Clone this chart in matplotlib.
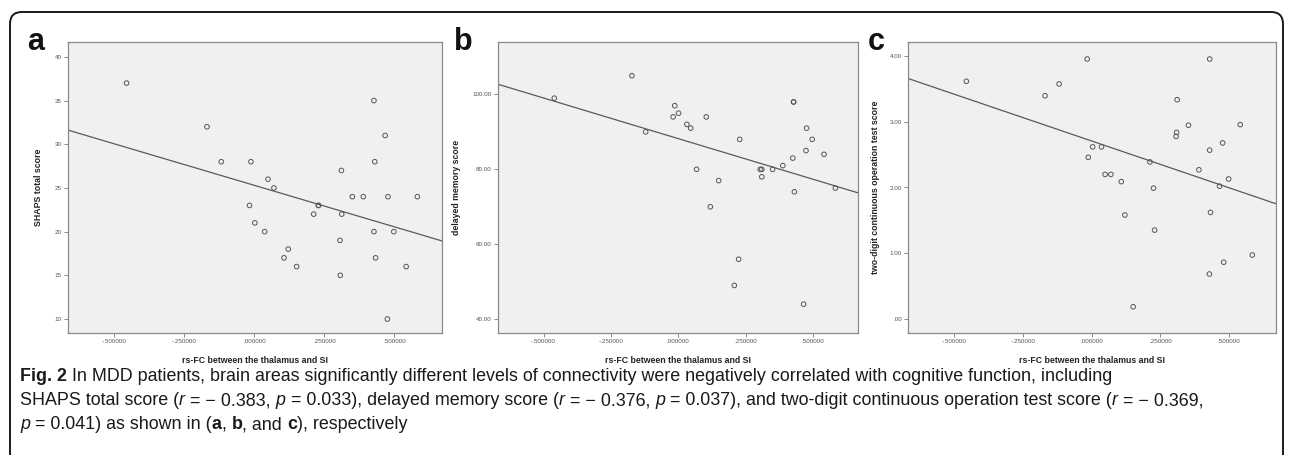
"""
Scatter plots of rs-FC between the thalamus and SI against cognitive scores.
"""

import matplotlib
matplotlib.use("Agg")
import matplotlib.pyplot as plt
import matplotlib.font_manager as fm
from matplotlib.patches import FancyBboxPatch
from matplotlib.transforms import IdentityTransform
import numpy as np

# panel a: SHAPS total score
fc_a = [-0.456, -0.169, -0.118, -0.012, -0.017, 0.049, 0.070, 0.002, 0.037,
        0.121, 0.106, 0.151, 0.229, 0.229, 0.212, 0.311, 0.312, 0.306, 0.307,
        0.350, 0.389, 0.427, 0.467, 0.430, 0.477, 0.427, 0.498, 0.433, 0.542,
        0.582, 0.475]
shaps = [37, 32, 28, 28, 23, 26, 25, 21, 20,
         18, 17, 16, 23, 23, 22, 27, 22, 19, 15,
         24, 24, 35, 31, 28, 24, 20, 20, 17, 16,
         24, 10]

# panel b: delayed memory score
fc_b = [-0.460, -0.172, -0.121, -0.013, -0.019, 0.001, 0.032, 0.046, 0.104,
        0.068, 0.150, 0.119, 0.228, 0.224, 0.208, 0.304, 0.310, 0.310, 0.350,
        0.388, 0.425, 0.428, 0.428, 0.431, 0.476, 0.497, 0.474, 0.541, 0.583,
        0.465]
memory = [99, 105, 90, 97, 94, 95, 92, 91, 94,
          80, 77, 70, 88, 56, 49, 80, 80, 78, 80,
          81, 83, 98, 98, 74, 91, 88, 85, 84, 75,
          44]

# panel c: two-digit continuous operation test score
fc_c = [-0.455, -0.169, -0.118, -0.016, -0.012, 0.004, 0.036, 0.049, 0.070,
        0.108, 0.121, 0.151, 0.212, 0.225, 0.229, 0.311, 0.309, 0.307, 0.352,
        0.390, 0.429, 0.429, 0.476, 0.465, 0.498, 0.432, 0.540, 0.480, 0.428,
        0.584]
operation = [3.62, 3.40, 3.58, 3.96, 2.46, 2.62, 2.62, 2.20, 2.20,
             2.09, 1.58, 0.18, 2.39, 1.99, 1.35, 3.34, 2.84, 2.78, 2.95,
             2.27, 3.96, 2.57, 2.68, 2.02, 2.13, 1.62, 2.96, 0.86, 0.68,
             0.97]

# fit lines: (intercept, slope)
fit_a = (25.3, -9.5)
fit_b = (88.2, -21.7)
fit_c = (2.71, -1.43)

x_ticks = [-0.5, -0.25, 0.0, 0.25, 0.5]
x_tick_labels = ["-.500000", "-.250000", ".000000", ".250000", ".500000"]
y_ticks_a = [10, 15, 20, 25, 30, 35, 40]
y_labels_a = ["10", "15", "20", "25", "30", "35", "40"]
y_ticks_b = [40, 60, 80, 100]
y_labels_b = ["40.00", "60.00", "80.00", "100.00"]
y_ticks_c = [0, 1, 2, 3, 4]
y_labels_c = [".00", "1.00", "2.00", "3.00", "4.00"]

x_label = "rs-FC between the thalamus and SI"


def pick_font(names):
    have = {f.name for f in fm.fontManager.ttflist}
    for name in names:
        if name in have:
            return name
    return "DejaVu Sans"


AX_FONT = pick_font(["Liberation Sans", "Arimo"])
CAP_FONT = pick_font(["Liberation Sans Narrow", "Liberation Sans"])
CAP_SIZE = 15.4 if CAP_FONT == "Liberation Sans Narrow" else 12.9

W, H = 1290, 455
fig = plt.figure(figsize=(W / 100, H / 100), dpi=100)


def px_axes(left, right, top, bottom):
    return fig.add_axes([left / W, 1 - bottom / H, (right - left) / W,
                         (bottom - top) / H])


def panel(ax, x, y, fit, yticks, ylabels, ylim, xlim, ylabel, ylab_x):
    ax.set_facecolor("#f0f0f0")
    ax.scatter(x, y, s=11, facecolors="none", edgecolors="#555555",
               linewidths=0.7, zorder=3)
    xs = np.array(xlim)
    ax.plot(xs, fit[0] + fit[1] * xs, color="#5a5a5a", linewidth=0.9,
            zorder=2)
    ax.set_xlim(xlim)
    ax.set_ylim(ylim)
    ax.set_xticks(x_ticks)
    ax.set_xticklabels(x_tick_labels)
    ax.set_yticks(yticks)
    ax.set_yticklabels(ylabels)
    ax.tick_params(length=3, width=0.6, color="#777777", labelsize=4.5,
                   labelcolor="#555555", pad=1.5)
    for sp in ax.spines.values():
        sp.set_color("#8a8a8a")
        sp.set_linewidth(0.9)
    ax.set_xlabel(x_label, fontsize=6.3, weight="bold", family=AX_FONT,
                  color="#222222")
    ax.xaxis.set_label_coords(0.5, -0.079)
    ax.set_ylabel(ylabel, fontsize=6.3, weight="bold", family=AX_FONT,
                  color="#222222")
    ax.yaxis.set_label_coords(ylab_x, 0.5)
    for lab in ax.get_xticklabels() + ax.get_yticklabels():
        lab.set_family(AX_FONT)


ax_a = px_axes(68, 442, 42, 333)
panel(ax_a, fc_a, shaps, fit_a, y_ticks_a, y_labels_a, (8.4, 41.7),
      (-0.665, 0.670), "SHAPS total score", -0.067)
ax_b = px_axes(498, 858, 42, 333)
panel(ax_b, fc_b, memory, fit_b, y_ticks_b, y_labels_b, (36.3, 114.0),
      (-0.669, 0.667), "delayed memory score", -0.104)
ax_c = px_axes(908, 1276, 42, 333)
panel(ax_c, fc_c, operation, fit_c, y_ticks_c, y_labels_c, (-0.22, 4.22),
      (-0.667, 0.670), "two-digit continuous operation test score", -0.077)

# panel letters
for letter, xpos in [("a", 27), ("b", 454), ("c", 868)]:
    fig.text(xpos, H - 50, letter, transform=IdentityTransform(),
             fontsize=22, weight="bold", family=AX_FONT, color="#111111")

# outer rounded frame, open below the picture
frame = FancyBboxPatch((10, -30), 1273, H - 12 + 30,
                       boxstyle="round,pad=0,rounding_size=12",
                       transform=IdentityTransform(), fill=False,
                       edgecolor="#1a1a1a", linewidth=1.4)
fig.patches.append(frame)

# caption, drawn run by run so bold and italic parts line up
caption = [
    [("Fig. 2", "bold", "normal"),
     (" In MDD patients, brain areas significantly different levels of "
      "connectivity were negatively correlated with cognitive function, "
      "including", "normal", "normal")],
    [("SHAPS total score (", "normal", "normal"), ("r", "normal", "italic"),
     (" = \u2212 0.383, ", "normal", "normal"),
     ("p", "normal", "italic"),
     (" = 0.033), delayed memory score (", "normal", "normal"),
     ("r", "normal", "italic"),
     (" = \u2212 0.376, ", "normal", "normal"),
     ("p", "normal", "italic"),
     (" = 0.037), and two-digit continuous operation test score (",
      "normal", "normal"),
     ("r", "normal", "italic"),
     (" = \u2212 0.369,", "normal", "normal")],
    [("p", "normal", "italic"),
     (" = 0.041) as shown in (", "normal", "normal"),
     ("a", "bold", "normal"), (", ", "normal", "normal"),
     ("b", "bold", "normal"), (", and ", "normal", "normal"),
     ("c", "bold", "normal"), ("), respectively", "normal", "normal")],
]
baselines = [381, 405, 429]

renderer = fig.canvas.get_renderer()
for runs, base in zip(caption, baselines):
    x = 20
    for text, weight, style in runs:
        t = fig.text(x, H - base, text, transform=IdentityTransform(),
                     fontsize=CAP_SIZE, weight=weight, style=style,
                     family=[CAP_FONT, "DejaVu Sans"], color="#1a1a1a",
                     va="baseline")
        x += t.get_window_extent(renderer).width

fig.savefig("out.png", dpi=100)
